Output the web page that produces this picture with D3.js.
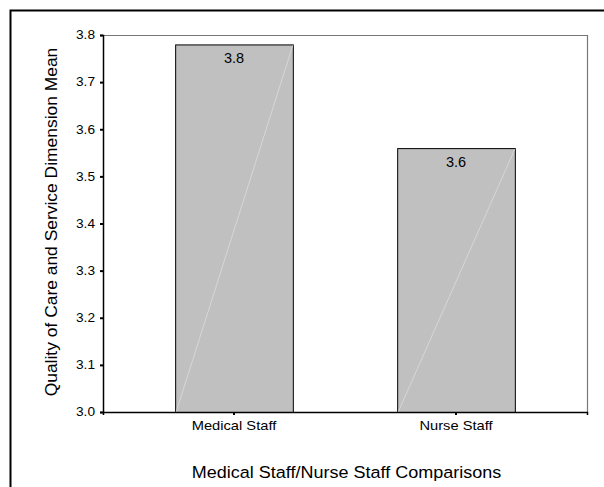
<!DOCTYPE html>
<html><head><meta charset="utf-8">
<script src="https://cdn.jsdelivr.net/npm/d3@7"></script>
<style>body{margin:0;background:#fff}svg{display:block}text{font-family:"Liberation Sans",Arial,sans-serif;fill:#000}</style>
</head><body>
<script>
const categories = ["Medical Staff", "Nurse Staff"];
const values = [3.78, 3.56];
const valueLabels = ["3.8", "3.6"];
const yTicks = [3.0, 3.1, 3.2, 3.3, 3.4, 3.5, 3.6, 3.7, 3.8];

const W = 604, H = 487;
const svg = d3.select("body").append("svg").attr("width", W).attr("height", H);
svg.append("rect").attr("x", 10.5).attr("y", 10.5).attr("width", 620).attr("height", 500)
  .attr("fill", "none").attr("stroke", "#000").attr("stroke-width", 2);

const L = 103, R = 587, T = 35, B = 412;
const x = d3.scaleBand().domain(categories).range([L, R]).paddingInner(0.47).paddingOuter(0.325);
const y = d3.scaleLinear().domain([3.0, 3.8]).range([B, T]);

svg.append("path").attr("d", `M${L},${T+0.5}H${R+0.5}V${B}`).attr("fill", "none").attr("stroke", "#777").attr("stroke-width", 1.2);

const g = svg.append("g");
categories.forEach((c, i) => {
  const x0 = x(c), bw = x.bandwidth(), yt = y(values[i]);
  g.append("rect").attr("x", x0 + 0.5).attr("y", yt + 0.5).attr("width", bw).attr("height", B - yt)
    .attr("fill", "#c0c0c0").attr("stroke", "#000").attr("stroke-width", 1);
  g.append("line").attr("x1", x0 + 1).attr("y1", B).attr("x2", x0 + bw).attr("y2", yt + 1)
    .attr("stroke", "#dcdcdc").attr("stroke-width", 0.8);
  g.append("text").attr("x", x0 + bw / 2).attr("y", yt + 18.5).attr("text-anchor", "middle")
    .attr("font-size", 14.5).text(valueLabels[i]);
});

const ySx = 1.14;
const ya = svg.append("g").attr("transform", `translate(${L},0)`)
  .call(d3.axisLeft(y).tickValues(yTicks).tickFormat(d3.format(".1f")).tickSize(3).tickPadding(5));
ya.select(".domain").attr("stroke", "#000").attr("stroke-width", 1.5);
ya.selectAll(".tick line").attr("stroke", "#000").attr("stroke-width", 2);
ya.selectAll(".tick text").attr("font-size", 12).attr("font-family", '"Liberation Sans",Arial,sans-serif')
  .attr("x", -8 / ySx).attr("transform", `scale(${ySx},1)`);

const xSx = 1.13;
const xa = svg.append("g").attr("transform", `translate(0,${B})`)
  .call(d3.axisBottom(x).tickSize(3).tickPadding(6));
xa.select(".domain").attr("stroke", "#000").attr("stroke-width", 1.5);
xa.selectAll(".tick line").attr("stroke", "#000").attr("stroke-width", 2);
xa.selectAll(".tick text").attr("font-size", 13).attr("font-family", '"Liberation Sans",Arial,sans-serif')
  .attr("transform", `scale(${xSx},1)`);

svg.append("text").attr("transform", "translate(346.5,478) scale(1.06,1)").attr("text-anchor", "middle").attr("font-size", 17)
  .text("Medical Staff/Nurse Staff Comparisons");
svg.append("text").attr("transform", "translate(56.5,222) rotate(-90) scale(1.09,1)").attr("text-anchor", "middle").attr("font-size", 16)
  .text("Quality of Care and Service Dimension Mean");
</script>
</body></html>
